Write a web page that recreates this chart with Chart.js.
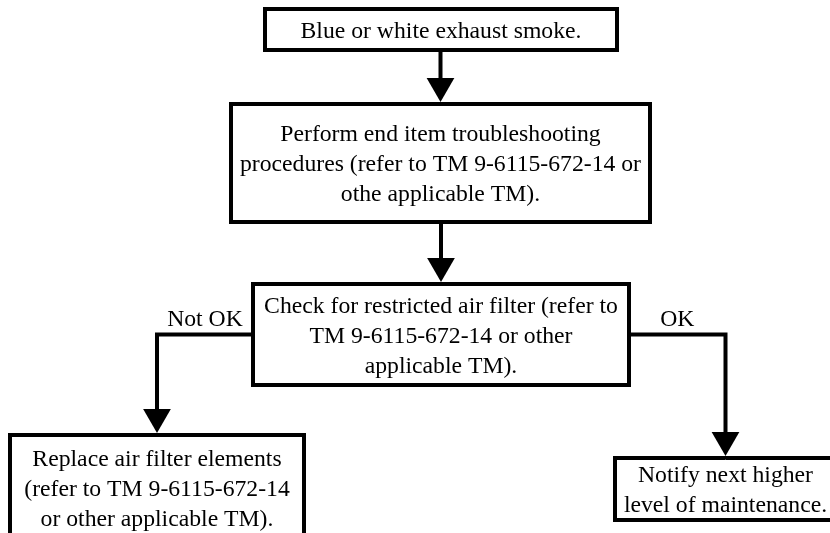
<!DOCTYPE html>
<html lang="en">
<head>
<meta charset="UTF-8" />
<title>Blue or white exhaust smoke</title>
<style>
    body {
        margin: 0;
        background: #fff;
    }

    #flow {
        display: block;
    }
</style>
</head>
<body>
<canvas id="flow" width="830" height="533"></canvas>

<script src="https://cdn.jsdelivr.net/npm/chart.js"></script>
<script>
    // Steps of the flowchart, one entry per box
    const stepText = [
        ['Blue or white exhaust smoke.'],
        ['Perform end item troubleshooting', 'procedures (refer to TM 9-6115-672-14 or', 'othe applicable TM).'],
        ['Check for restricted air filter (refer to', 'TM 9-6115-672-14 or other', 'applicable TM).'],
        ['Replace air filter elements', '(refer to TM 9-6115-672-14', 'or other applicable TM).'],
        ['Notify next higher', 'level of maintenance.']
    ];
    // box centre and size, in chart units (the page is 830 x 533 units)
    const stepX = [441, 440.5, 441, 157, 725.5];
    const stepY = [29.5, 163, 334.5, 488, 489];
    const stepW = [352, 419, 376, 294, 221];
    const stepH = [41, 118, 101, 106, 62];

    // Links between the boxes
    const linkFrom = [0, 1, 2, 2];
    const linkTo = [1, 2, 3, 4];
    const linkLabel = ['', '', 'Not OK', 'OK'];

    const LINE = 4;      // border / connector width
    const HEAD = 16;     // arrow head radius
    const FONT = '23.7px "Liberation Serif", "Times New Roman", serif';

    function boxPath(i) {
        const l = stepX[i] - stepW[i] / 2, r = stepX[i] + stepW[i] / 2;
        const t = stepY[i] - stepH[i] / 2, b = stepY[i] + stepH[i] / 2;
        // start and finish in the middle of the top edge so the corners join
        return [
            { x: stepX[i], y: t }, { x: r, y: t }, { x: r, y: b },
            { x: l, y: b }, { x: l, y: t }, { x: stepX[i], y: t }
        ];
    }

    function linkPath(k) {
        const a = linkFrom[k], b = linkTo[k];
        const tx = stepX[b];
        const top = stepY[b] - stepH[b] / 2;
        if (Math.abs(stepX[a] - tx) < 5) {
            return [{ x: tx, y: stepY[a] + stepH[a] / 2 }, { x: tx, y: top - 8 }];
        }
        const side = tx < stepX[a] ? -1 : 1;
        return [
            { x: stepX[a] + side * stepW[a] / 2, y: stepY[a] },
            { x: tx, y: stepY[a] },
            { x: tx, y: top - 8 }
        ];
    }

    function lineSet(points) {
        return {
            data: points,
            showLine: true,
            borderColor: '#000',
            backgroundColor: '#000',
            borderWidth: LINE,
            borderCapStyle: 'butt',
            borderJoinStyle: 'miter',
            pointRadius: 0,
            clip: false
        };
    }

    const datasets = [];
    stepText.forEach((_, i) => datasets.push(lineSet(boxPath(i))));
    linkFrom.forEach((_, k) => datasets.push(lineSet(linkPath(k))));
    // arrow heads, tip touching the outside of the target box
    datasets.push({
        showLine: false,
        data: linkTo.map(b => ({ x: stepX[b], y: stepY[b] - stepH[b] / 2 - LINE / 2 - HEAD })),
        pointStyle: 'triangle',
        pointRotation: 180,
        pointRadius: HEAD,
        pointBorderWidth: 0,
        pointBackgroundColor: '#000',
        pointBorderColor: '#000',
        clip: false
    });

    // Text inside the boxes and on the branches
    const flowText = {
        id: 'flowText',
        afterDatasetsDraw(chart) {
            const ctx = chart.ctx;
            const sx = chart.scales.x, sy = chart.scales.y;
            ctx.save();
            ctx.fillStyle = '#000';
            ctx.font = FONT;
            ctx.textAlign = 'center';
            ctx.textBaseline = 'alphabetic';
            stepText.forEach((lines, i) => {
                const px = sx.getPixelForValue(stepX[i]);
                const py = sy.getPixelForValue(stepY[i]);
                lines.forEach((s, j) => {
                    ctx.fillText(s, px, py + 8 + (j - (lines.length - 1) / 2) * 30);
                });
            });
            linkLabel.forEach((s, k) => {
                if (!s) return;
                const p = linkPath(k);
                const mx = (p[0].x + p[1].x) / 2;
                ctx.fillText(s, sx.getPixelForValue(mx), sy.getPixelForValue(p[0].y) - 9);
            });
            ctx.restore();
        }
    };

    new Chart(document.getElementById('flow'), {
        type: 'scatter',
        data: { datasets: datasets },
        options: {
            responsive: false,
            animation: false,
            layout: { padding: 0, autoPadding: false },
            scales: {
                x: { type: 'linear', min: 0, max: 830, display: false },
                y: { type: 'linear', min: 0, max: 533, reverse: true, display: false }
            },
            plugins: {
                colors: { enabled: false },
                legend: { display: false },
                tooltip: { enabled: false }
            }
        },
        plugins: [flowText]
    });
</script>
</body>
</html>
